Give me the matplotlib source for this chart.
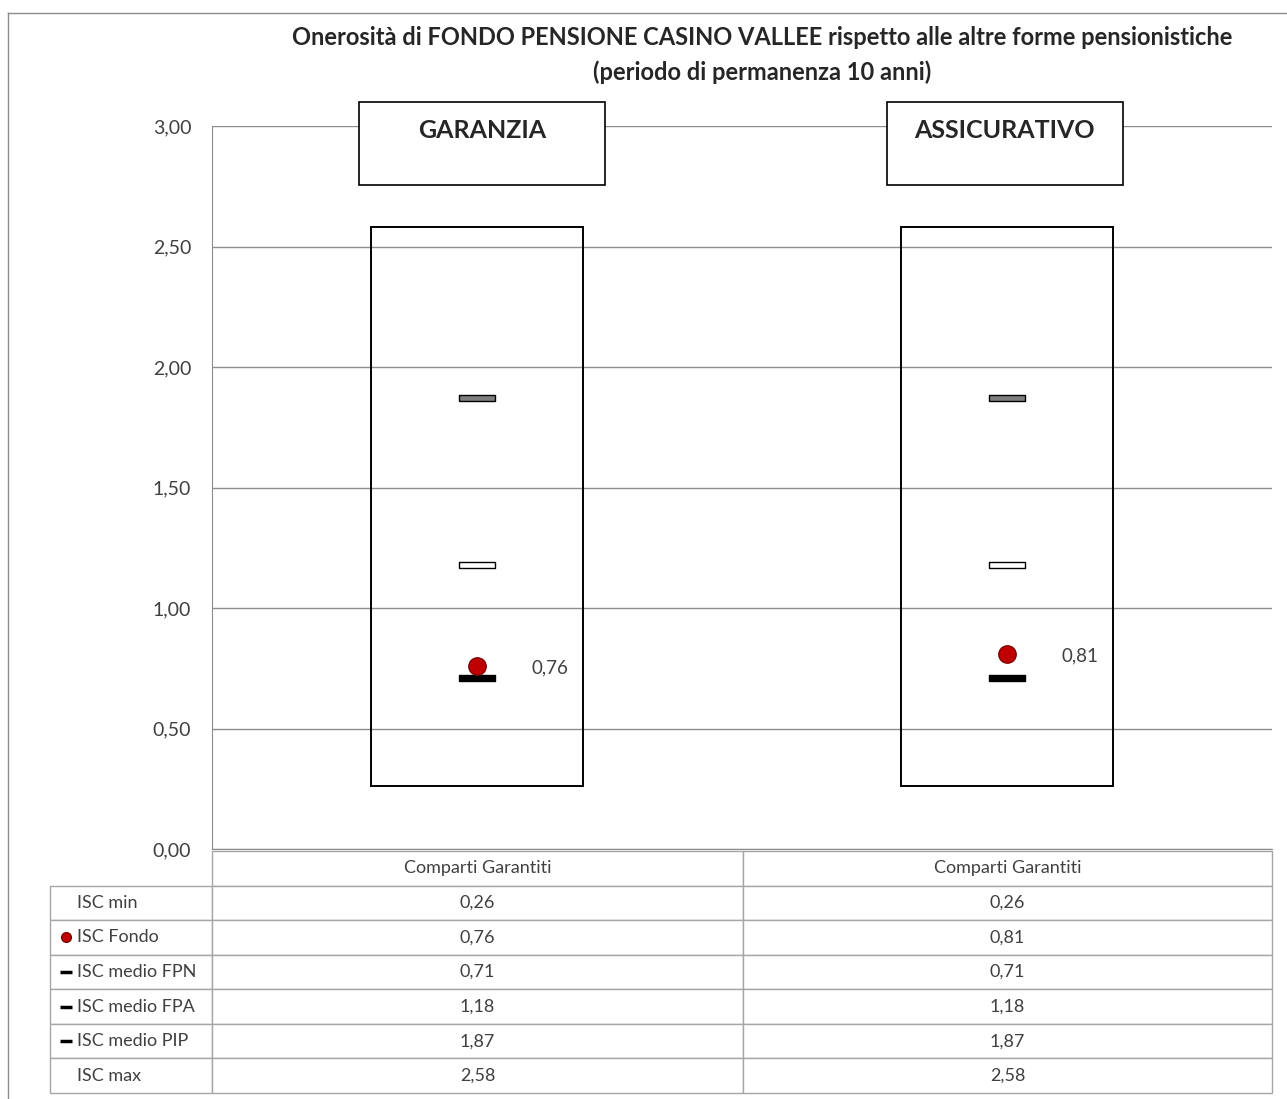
import matplotlib
matplotlib.use("Agg")
import matplotlib.pyplot as plt
from matplotlib.patches import Rectangle
from matplotlib.lines import Line2D

plt.rcParams['font.family'] = ['Lato', 'DejaVu Sans']

# DATA
categories = ["GARANZIA", "ASSICURATIVO"]
col_labels = ["Comparti Garantiti", "Comparti Garantiti"]
isc_min = [0.26, 0.26]
isc_fondo = [0.76, 0.81]
isc_fpn = [0.71, 0.71]
isc_fpa = [1.18, 1.18]
isc_pip = [1.87, 1.87]
isc_max = [2.58, 2.58]
row_labels = ["ISC min", "ISC Fondo", "ISC medio FPN", "ISC medio FPA",
              "ISC medio PIP", "ISC max"]
yticks = [0.0, 0.5, 1.0, 1.5, 2.0, 2.5, 3.0]
title = ("Onerosità di FONDO PENSIONE CASINO VALLEE rispetto alle altre forme pensionistiche\n"
         "(periodo di permanenza 10 anni)")


def fmt(v):
    return f"{v:.2f}".replace(".", ",")


GRID = "#8c8c8c"
TXT = "#404040"

fig = plt.figure(figsize=(12.87, 10.99), dpi=100)
ax = fig.add_axes([212 / 1287, 1 - 849 / 1099, 1060 / 1287, 723 / 1099])

x = list(range(len(categories)))
ax.set_xlim(-0.5, len(categories) - 0.5)
ax.set_ylim(0, 3)
ax.set_yticks(yticks)
ax.set_yticklabels([fmt(t) for t in yticks])
ax.set_xticks([])
ax.tick_params(axis="y", length=0, pad=15, labelsize=14, labelcolor=TXT)
ax.grid(axis="y", color=GRID, lw=1)
ax.set_axisbelow(True)
for s in ["top", "right"]:
    ax.spines[s].set_visible(False)
ax.spines["left"].set_color(GRID)
ax.spines["bottom"].set_color(GRID)

# min-max box
heights = [mx - mn for mn, mx in zip(isc_min, isc_max)]
ax.bar(x, heights, bottom=isc_min, width=0.40, facecolor="none",
       edgecolor="black", lw=1.4, zorder=2)

# average markers (flat rectangles)
dash = [(-1, -0.19), (1, -0.19), (1, 0.19), (-1, 0.19), (-1, -0.19)]
ax.plot(x, isc_pip, ls="none", marker=dash, ms=26, mfc="#7f7f7f", mec="black", mew=1, zorder=3)
ax.plot(x, isc_fpa, ls="none", marker=dash, ms=26, mfc="white", mec="black", mew=1, zorder=3)
ax.plot(x, isc_fpn, ls="none", marker=dash, ms=26, mfc="black", mec="black", mew=1, zorder=3)
ax.plot(x, isc_fondo, ls="none", marker="o", ms=12.5, mfc="#c00000", mec="#7f0000", mew=1, zorder=4)
for xi, v in zip(x, isc_fondo):
    ax.annotate(fmt(v), (xi, v), xytext=(39, -1.5), textcoords="offset points",
                ha="left", va="center", fontsize=13.5, color=TXT)

# category header boxes
box_w = [0.464, 0.445]
box_dx = [0.0094, -0.004]
for xi, name, w, dx in zip(x, categories, box_w, box_dx):
    ax.add_patch(Rectangle((xi + dx - w / 2, 2.755), w, 0.345, facecolor="white",
                           edgecolor="black", lw=1.2, clip_on=False, zorder=5))
    ax.text(xi + dx, 2.982, name, ha="center", va="center", fontsize=18,
            fontweight="bold", color="#262626", zorder=6, clip_on=False)

fig.text(762 / 1287, 1 - 55 / 1099, title, ha="center", va="center", fontsize=17,
         fontweight="bold", color="#262626", linespacing=1.55)

# data table
value_rows = [isc_min, isc_fondo, isc_fpn, isc_fpa, isc_pip, isc_max]
cell_text = [["", col_labels[0], col_labels[1]]]
for lab, vals in zip(row_labels, value_rows):
    cell_text.append([lab] + [fmt(v) for v in vals])

tab_left = (50 - 212) / 1060
tab_top = (849 - 851) / 723
tab_bot = (849 - 1093) / 723
tab = ax.table(cellText=cell_text, cellLoc="center",
               colWidths=[162, 531, 529],
               bbox=[tab_left, tab_bot, 1 - tab_left, tab_top - tab_bot])
tab.auto_set_font_size(False)
tab.set_fontsize(13)
for (r, c), cell in tab.get_celld().items():
    cell.set_edgecolor("#a6a6a6")
    cell.set_linewidth(1)
    cell.get_text().set_color(TXT)
    if c == 0:
        cell.get_text().set_horizontalalignment("left")
        cell.PAD = 27 / 162
    if r == 0 and c == 0:
        cell.visible_edges = ""

# legend markers in the label column
n_rows = len(row_labels) + 1
row_h = (tab_top - tab_bot) / n_rows
mark_x = (66 - 212) / 1060
legend_marks = [None, "dot", "dash", "dash", "dash", None]
for i, m in enumerate(legend_marks):
    yc = tab_top - (i + 1.5) * row_h
    if m == "dot":
        ax.plot(mark_x, yc, marker="o", ms=7, mfc="#c00000", mec="#7f0000",
                transform=ax.transAxes, clip_on=False)
    elif m == "dash":
        ax.plot(mark_x, yc, marker="_", ms=8, mew=2.5, color="black",
                transform=ax.transAxes, clip_on=False)

# outer frame of the chart area
fig.add_artist(Line2D([8 / 1287, 1], [1 - 13 / 1099] * 2, color="#8c8c8c", lw=1))
fig.add_artist(Line2D([8 / 1287] * 2, [0, 1 - 13 / 1099], color="#8c8c8c", lw=1))

fig.savefig("out.png", dpi=100)
